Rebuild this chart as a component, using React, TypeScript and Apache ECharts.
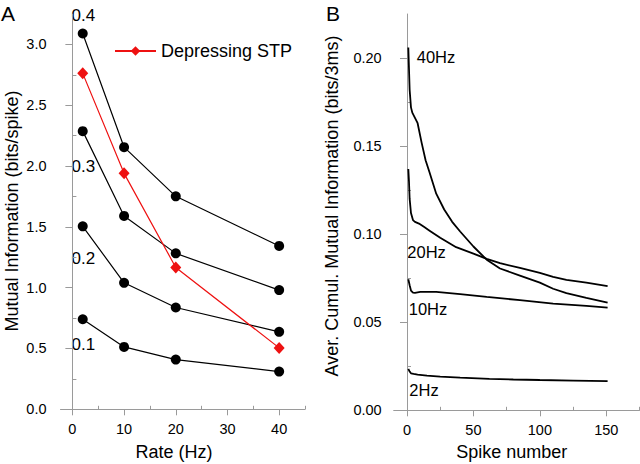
import React, { useEffect, useRef } from "react";
import * as echarts from "echarts";

// Panel A data
const rates = [2, 10, 20, 40];
const mi01 = [0.74, 0.513, 0.409, 0.31];
const mi02 = [1.504, 1.04, 0.837, 0.637];
const mi03 = [2.287, 1.59, 1.282, 0.98];
const mi04 = [3.09, 2.155, 1.751, 1.343];
const miSTP = [2.762, 1.94, 1.166, 0.505];
const stpName = "Depressing STP";
const lineLabels = ["0.4", "0.3", "0.2", "0.1"];

const rateTicks = [0, 10, 20, 30, 40];
const rateMinor = [5, 15, 25, 35, 45];
const miTicks = [0, 0.5, 1.0, 1.5, 2.0, 2.5, 3.0];
const miMinor = [0.25, 0.75, 1.25, 1.75, 2.25, 2.75];

// Panel B data
const n40 = [1, 2, 3, 4, 6, 8, 11, 14, 17, 22, 28, 34, 40, 50, 60, 70, 85, 100, 110, 120, 135, 151];
const v40 = [0.206, 0.182, 0.172, 0.169, 0.166, 0.163, 0.152, 0.142, 0.135, 0.123, 0.114, 0.107, 0.1015, 0.093, 0.0855, 0.0805, 0.0765, 0.0725, 0.069, 0.0665, 0.0638, 0.0612];
const n20 = [1, 1.5, 2, 3, 4.5, 6, 9, 13, 17, 25, 37, 50, 60, 70, 85, 100, 110, 120, 135, 151];
const v20 = [0.137, 0.13, 0.12, 0.112, 0.108, 0.107, 0.106, 0.104, 0.102, 0.098, 0.0926, 0.089, 0.086, 0.0835, 0.0808, 0.078, 0.0757, 0.074, 0.0725, 0.0705];
const n10 = [1, 2, 3, 4.5, 6, 10, 22, 40, 60, 85, 110, 135, 151];
const v10 = [0.0744, 0.071, 0.068, 0.0668, 0.0667, 0.0672, 0.0672, 0.066, 0.0644, 0.0625, 0.0606, 0.0593, 0.0583];
const n2 = [1, 2, 3, 5, 8, 15, 25, 40, 62, 80, 100, 125, 151];
const v2 = [0.0235, 0.022, 0.021, 0.0207, 0.0203, 0.0197, 0.0191, 0.0185, 0.0178, 0.0175, 0.0172, 0.0169, 0.0166];
const hzLabels = ["40Hz", "20Hz", "10Hz", "2Hz"];

const spikeTicks = [0, 50, 100, 150];
const spikeMinor = [25, 75, 125, 175];
const aciTicks = [0, 0.05, 0.1, 0.15, 0.2];
const aciMinor = [0.025, 0.075, 0.125, 0.175];

const FONT = "Arial, 'Liberation Sans', Helvetica, sans-serif";
const AXIS_GRAY = "#9a9a9a";
const RED = "#ee1111";

function pairs(xs: number[], ys: number[]) {
  return xs.map((x, i) => [x, ys[i]]);
}

export default function App() {
  const ref = useRef<HTMLDivElement>(null);
  useEffect(() => {
    if (!ref.current) return;
    const chart = echarts.init(ref.current, undefined, { renderer: "svg" });

    const majorX = (min: number, max: number, gi: number, ticks: number[]) => ({
      type: "value",
      gridIndex: gi,
      min,
      max,
      axisLine: { show: true, lineStyle: { color: AXIS_GRAY, width: 1 } },
      axisTick: { show: true, length: 6, customValues: ticks, lineStyle: { color: AXIS_GRAY } },
      axisLabel: {
        show: true,
        customValues: ticks,
        margin: 12,
        fontSize: 14.5,
        fontFamily: FONT,
        color: "#000",
      },
      splitLine: { show: false },
    });
    const minorX = (min: number, max: number, gi: number, ticks: number[]) => ({
      type: "value",
      gridIndex: gi,
      min,
      max,
      axisLine: { show: false },
      axisTick: { show: true, length: 3.5, customValues: ticks, lineStyle: { color: AXIS_GRAY } },
      axisLabel: { show: false },
      splitLine: { show: false },
    });
    const majorY = (min: number, max: number, gi: number, ticks: number[], dec: number, margin: number) => ({
      type: "value",
      gridIndex: gi,
      min,
      max,
      axisLine: { show: true, lineStyle: { color: AXIS_GRAY, width: 1 } },
      axisTick: { show: true, length: 7, customValues: ticks, lineStyle: { color: AXIS_GRAY } },
      axisLabel: {
        show: true,
        customValues: ticks,
        margin,
        fontSize: 14.5,
        fontFamily: FONT,
        color: "#000",
        formatter: (v: number) => v.toFixed(dec),
      },
      splitLine: { show: false },
    });
    const minorY = (min: number, max: number, gi: number, ticks: number[]) => ({
      type: "value",
      gridIndex: gi,
      min,
      max,
      axisLine: { show: false },
      axisTick: { show: true, length: 4, customValues: ticks, lineStyle: { color: AXIS_GRAY } },
      axisLabel: { show: false },
      splitLine: { show: false },
    });

    const blackLine = (ys: number[]) => ({
      type: "line",
      xAxisIndex: 0,
      yAxisIndex: 0,
      data: pairs(rates, ys),
      symbol: "circle",
      symbolSize: 10,
      lineStyle: { color: "#000", width: 1.2 },
      itemStyle: { color: "#000" },
      z: 3,
    });
    const curve = (xs: number[], ys: number[]) => ({
      type: "line",
      xAxisIndex: 2,
      yAxisIndex: 2,
      data: pairs(xs, ys),
      showSymbol: false,
      symbol: "none",
      lineStyle: { color: "#000", width: 1.8 },
      z: 3,
    });

    const txt = (text: string, x: number, y: number, size: number, align = "left", rotation = 0) => ({
      type: "text",
      x,
      y,
      rotation,
      silent: true,
      style: {
        text,
        fontSize: size,
        fontFamily: FONT,
        fill: "#000",
        align,
        verticalAlign: "middle",
      },
    });

    const labelAY = [15, 166.3, 258, 344.7];
    const hzPos = [
      [416.7, 56.7],
      [407.3, 252],
      [408.7, 309.3],
      [409.3, 390.3],
    ];

    chart.setOption({
      animation: false,
      backgroundColor: "#fff",
      grid: [
        { left: 60.5, top: 14, width: 244.5, height: 395.3, containLabel: false },
        { left: 393.7, top: 14, width: 245.8, height: 396.3, containLabel: false },
      ],
      xAxis: [
        majorX(-2.3, 45, 0, rateTicks),
        minorX(-2.3, 45, 0, rateMinor),
        majorX(-10, 175, 1, spikeTicks),
        minorX(-10, 175, 1, spikeMinor),
      ],
      yAxis: [
        majorY(0, 3.25, 0, miTicks, 1, 14),
        minorY(0, 3.25, 0, miMinor),
        majorY(0, 0.225, 1, aciTicks, 2, 12),
        minorY(0, 0.225, 1, aciMinor),
      ],
      legend: {
        data: [stpName],
        left: 109,
        top: 37,
        itemWidth: 41,
        itemHeight: 12,
        textStyle: { fontSize: 18, fontFamily: FONT, color: "#000" },
      },
      series: [
        blackLine(mi04),
        blackLine(mi03),
        blackLine(mi02),
        blackLine(mi01),
        {
          name: stpName,
          type: "line",
          xAxisIndex: 0,
          yAxisIndex: 0,
          data: pairs(rates, miSTP),
          symbol: "diamond",
          symbolSize: [11, 12],
          lineStyle: { color: RED, width: 1.2 },
          itemStyle: { color: RED },
          z: 4,
        },
        curve(n40, v40),
        curve(n20, v20),
        curve(n10, v10),
        curve(n2, v2),
      ],
      graphic: [
        txt("A", 1, 13, 21),
        txt("B", 326, 13, 21),
        ...lineLabels.map((t, i) => txt(t, 71.5, labelAY[i], 17)),
        ...hzLabels.map((t, i) => txt(t, hzPos[i][0], hzPos[i][1], 16.5)),
        txt("Rate (Hz)", 174, 452, 18, "center"),
        txt("Spike number", 511.7, 452, 18, "center"),
        txt("Mutual Information (bits/spike)", 12, 211, 18, "center", Math.PI / 2),
        txt("Aver. Cumul. Mutual Information (bits/3ms)", 332, 206, 18, "center", Math.PI / 2),
      ],
    });
    return () => chart.dispose();
  }, []);
  return (
    <div
      ref={ref}
      style={{ position: "fixed", left: 0, top: 0, width: 640, height: 464, background: "#fff" }}
    />
  );
}
